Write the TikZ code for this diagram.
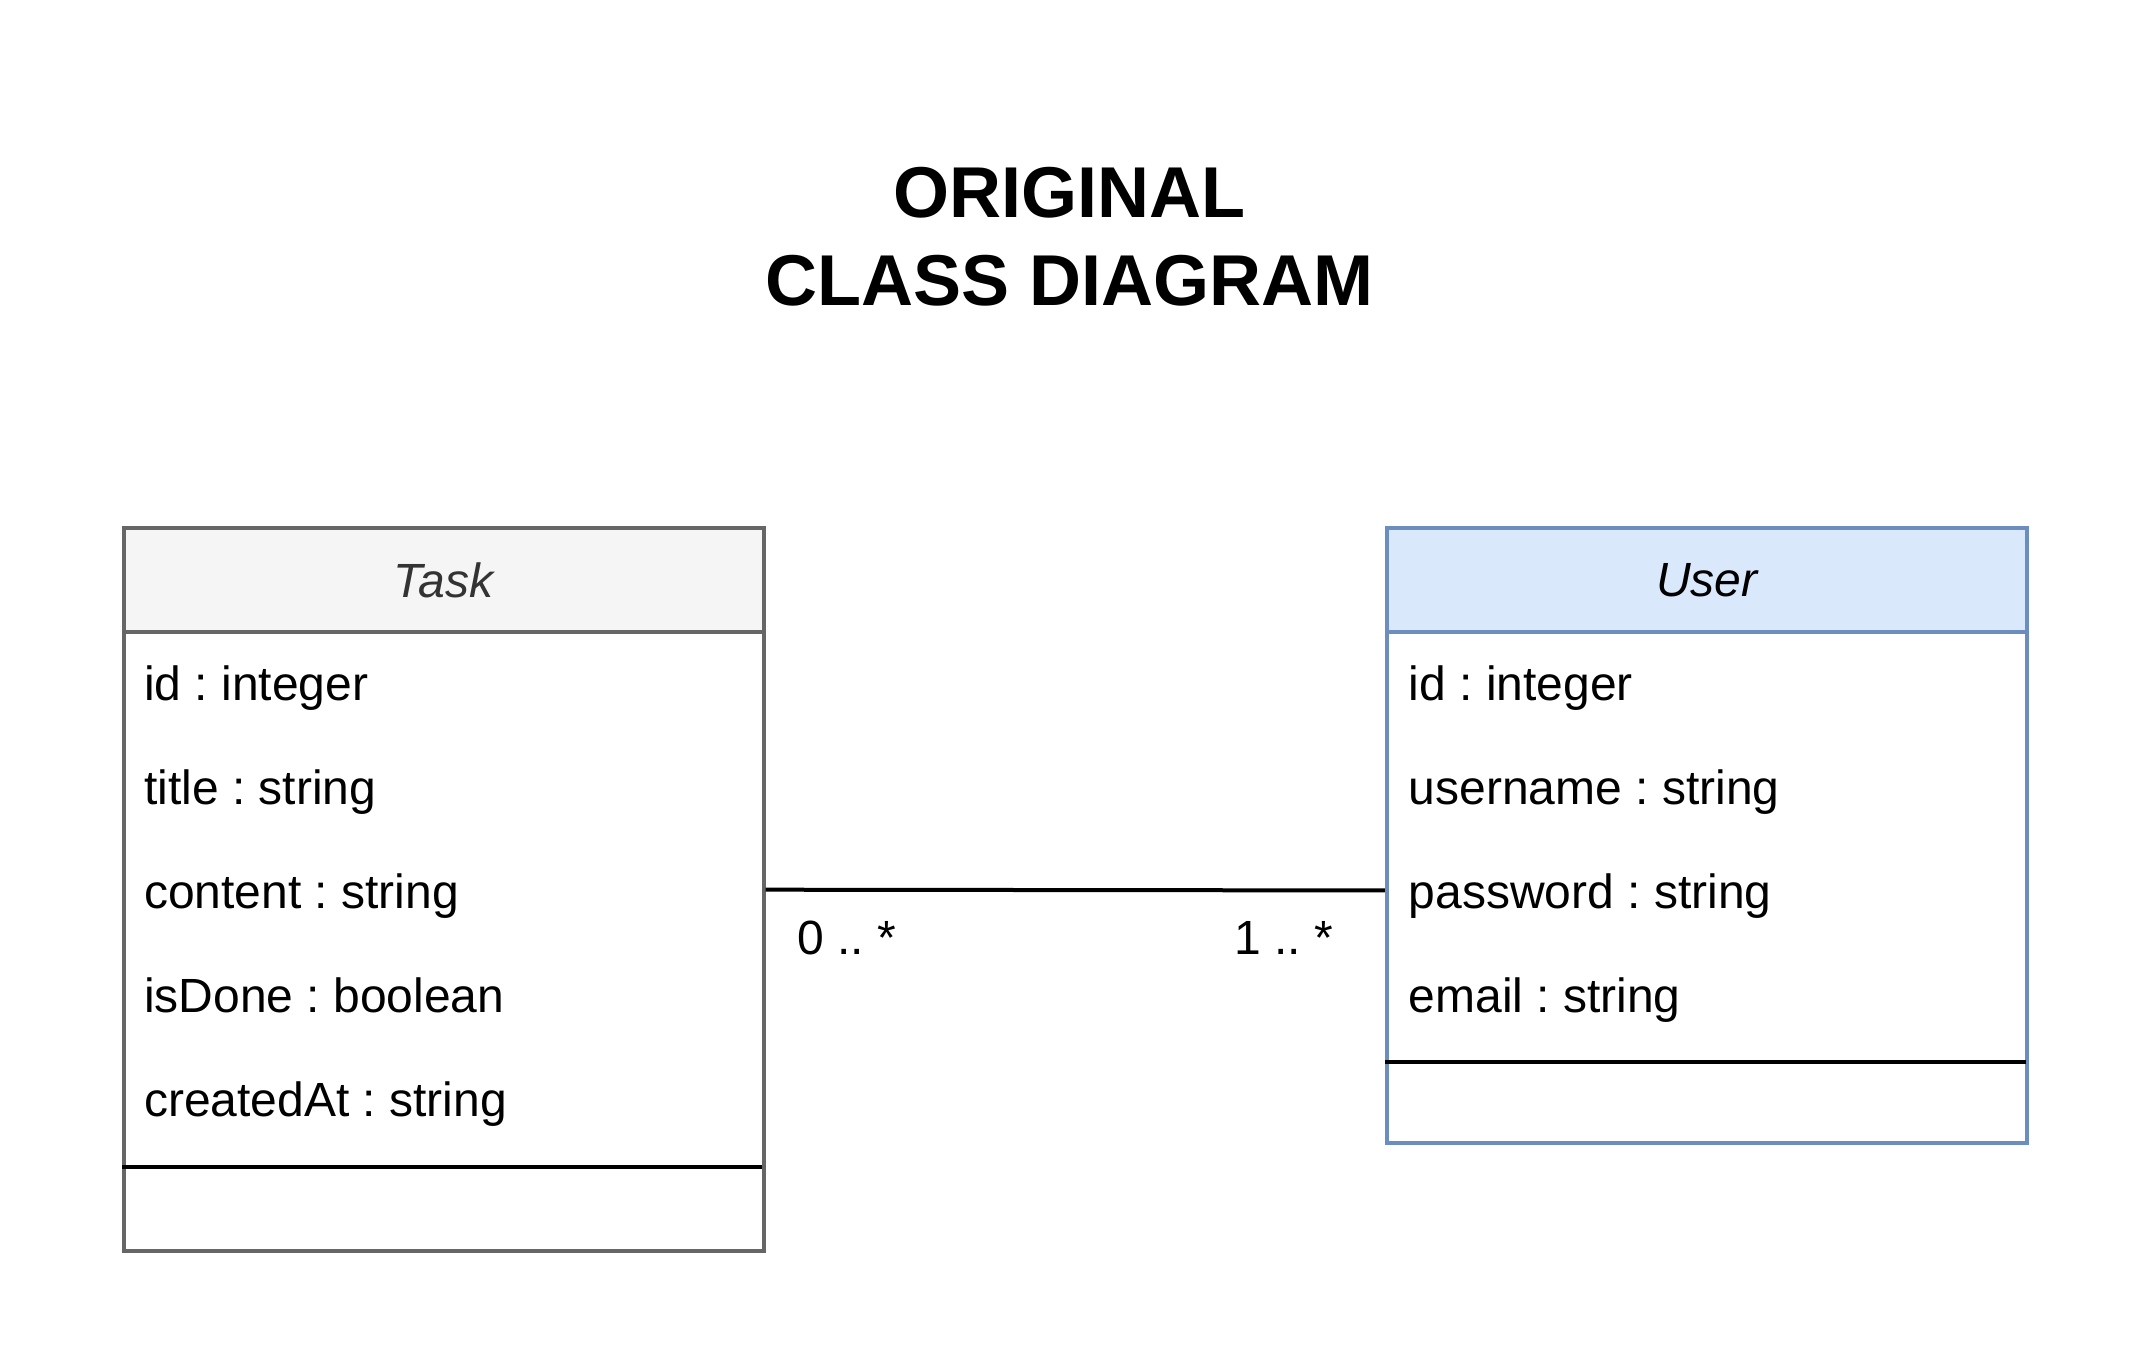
\documentclass[tikz,border=0pt]{standalone}
\usepackage{fontspec}
\setmainfont{Liberation Sans}
\definecolor{taskfill}{HTML}{F5F5F5}
\definecolor{taskline}{HTML}{666666}
\definecolor{tasktext}{HTML}{333333}
\definecolor{userfill}{HTML}{DAE8FC}
\definecolor{userline}{HTML}{6C8EBF}
\def\ux{0.685pt}
\frenchspacing
\begin{document}
\begin{tikzpicture}[x=0.685pt,y=-0.685pt,
  classbox/.style={rectangle, draw, line width=2pt, fill=white, minimum width=467*\ux, inner sep=0pt, anchor=north west},
  headbox/.style={classbox, minimum height=76*\ux, font=\fontsize{24}{28}\selectfont\itshape},
  attr/.style={anchor=base west, inner sep=0pt, font=\fontsize{24}{28}\selectfont},
  mult/.style={anchor=base, inner sep=0pt, font=\fontsize{24}{28}\selectfont},
  sepline/.style={line width=2pt, black},
  conn/.style={line width=2pt, black},
  titletext/.style={anchor=base, inner sep=0pt, font=\fontsize{36}{42}\selectfont\bfseries}
]
\useasboundingbox (0,0) rectangle (1568,1001.5);

% title
\node[titletext] (title1) at (781,159) {ORIGINAL};
\node[titletext] (title2) at (781,223) {CLASS DIAGRAM};

% Task class
\node[classbox, draw=taskline, minimum height=528*\ux] (task) at (89,384) {};
\node[headbox, draw=taskline, fill=taskfill, text=tasktext] (taskhead) at (89,384) {Task};
\node[attr] (ta1) at (105,511) {id : integer};
\node[attr] (ta2) at (105,587) {title : string};
\node[attr] (ta3) at (105,663) {content : string};
\node[attr] (ta4) at (105,739) {isDone : boolean};
\node[attr] (ta5) at (105,815) {createdAt : string};
\coordinate (tsepL) at (89,852);
\coordinate (tsepR) at (556,852);
\draw[sepline] (tsepL) -- (tsepR);

% User class
\node[classbox, draw=userline, minimum height=449*\ux] (user) at (1011,384) {};
\node[headbox, draw=userline, fill=userfill] (userhead) at (1011,384) {User};
\node[attr] (ua1) at (1028,511) {id : integer};
\node[attr] (ua2) at (1028,587) {username : string};
\node[attr] (ua3) at (1028,663) {password : string};
\node[attr] (ua4) at (1028,739) {email : string};
\coordinate (usepL) at (1011,775);
\coordinate (usepR) at (1479,775);
\draw[sepline] (usepL) -- (usepR);

% association
\coordinate (uend) at (1011,650);
\draw[conn] (task.east) -- (uend);
\node[mult] (m1) at (618,697) {0 .. *};
\node[mult] (m2) at (937,697) {1 .. *};
\end{tikzpicture}
\end{document}
